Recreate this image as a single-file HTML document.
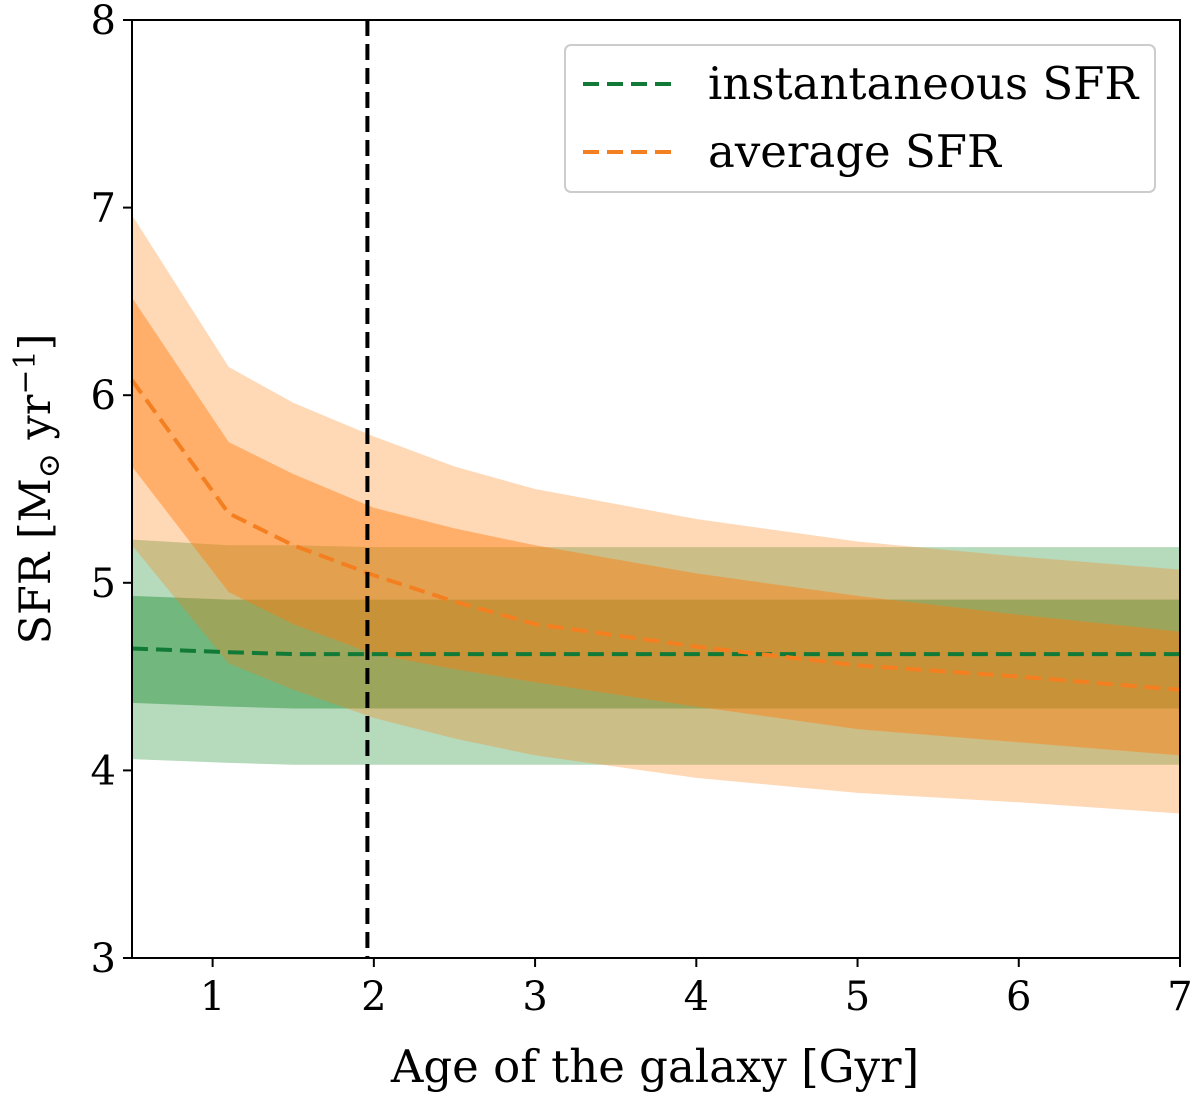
<!DOCTYPE html>
<html><head><meta charset="utf-8"><style>
body{margin:0;background:#fff}
svg text{font-family:"DejaVu Serif","Liberation Serif",serif;fill:#000}
</style></head><body>
<svg id="chart" width="1200" height="1105" xmlns="http://www.w3.org/2000/svg">
<g id="bands"></g><g id="lines"></g><g id="axes"></g>
</svg>
<script>
const ages=[0.5,1.1,1.5,2,2.5,3,4,5,6,7];
const avgMean=[6.08,5.37,5.2,5.04,4.9,4.78,4.66,4.56,4.5,4.43];
const avgUp1=[6.52,5.75,5.58,5.4,5.29,5.2,5.05,4.93,4.83,4.74];
const avgLo1=[5.62,4.95,4.78,4.62,4.54,4.47,4.34,4.22,4.15,4.08];
const avgUp2=[6.96,6.15,5.96,5.78,5.62,5.5,5.34,5.22,5.14,5.07];
const avgLo2=[5.2,4.57,4.43,4.28,4.17,4.08,3.96,3.88,3.83,3.77];
const instMean=[4.65,4.63,4.62,4.62,4.62,4.62,4.62,4.62,4.62,4.62];
const instUp1=[4.93,4.91,4.91,4.91,4.91,4.91,4.91,4.91,4.91,4.91];
const instLo1=[4.36,4.34,4.33,4.33,4.33,4.33,4.33,4.33,4.33,4.33];
const instUp2=[5.23,5.2,5.2,5.19,5.19,5.19,5.19,5.19,5.19,5.19];
const instLo2=[4.06,4.04,4.03,4.03,4.03,4.03,4.03,4.03,4.03,4.03];
const xTicks=[1,2,3,4,5,6,7];
const yTicks=[3,4,5,6,7,8];
const vline=1.96;
const L=132,R=1180,T=20,B=958,x0=0.5,x1=7,y0=3,y1=8;
const X=v=>L+(v-x0)/(x1-x0)*(R-L), Y=v=>B-(v-y0)/(y1-y0)*(B-T);
const NS='http://www.w3.org/2000/svg';
function mk(tag,attrs,parent){const e=document.createElementNS(NS,tag);for(const k in attrs)e.setAttribute(k,attrs[k]);parent.appendChild(e);return e;}
const bands=document.getElementById('bands'),lines=document.getElementById('lines'),axes=document.getElementById('axes');
function band(up,lo,color,op,name){
  let d='M'+ages.map((a,i)=>X(a)+','+Y(up[i])).join('L');
  d+='L'+ages.map((a,i)=>[a,i]).reverse().map(([a,i])=>X(a)+','+Y(lo[i])).join('L')+'Z';
  const p=mk('path',{d:d,fill:color,'fill-opacity':op},bands);
  
  
}
band(instUp2,instLo2,'#3a9a4a',0.37,'inst-2sigma-band');
band(instUp1,instLo1,'#3a9a4a',0.55,'inst-1sigma-band');
band(avgUp2,avgLo2,'#ff7f0e',0.3,'avg-2sigma-band');
band(avgUp1,avgLo1,'#ff7f0e',0.45,'avg-1sigma-band');
function line(vals,color,name){
  const p=mk('polyline',{points:ages.map((a,i)=>X(a)+','+Y(vals[i])).join(' '),fill:'none',stroke:color,'stroke-width':4,'stroke-dasharray':'16,8'},lines);
  
  
}
line(instMean,'#117a37','instantaneous-sfr-line');
line(avgMean,'#f47f20','average-sfr-line');
const vl=mk('line',{x1:X(vline),x2:X(vline),y1:T,y2:B,stroke:'#000','stroke-width':4,'stroke-dasharray':'16,8'},lines);


const fr=mk('rect',{x:L,y:T,width:R-L,height:B-T,fill:'none',stroke:'#000','stroke-width':2},axes);


xTicks.forEach(t=>{
  mk('line',{x1:X(t),x2:X(t),y1:B,y2:B+9,stroke:'#000','stroke-width':2},axes);
  const tx=mk('text',{x:X(t),y:B+52,'text-anchor':'middle','font-size':40},axes);tx.textContent=t;
  
  
});
yTicks.forEach(t=>{
  mk('line',{x1:L-9,x2:L,y1:Y(t),y2:Y(t),stroke:'#000','stroke-width':2},axes);
  const tx=mk('text',{x:L-16,y:Y(t)+14,'text-anchor':'end','font-size':40},axes);tx.textContent=t;
  
  
});
</script>
<svg style="position:absolute;left:0;top:0" width="1200" height="1105" xmlns="http://www.w3.org/2000/svg">
<text x="655" y="1082" text-anchor="middle" font-size="45">Age of the galaxy [Gyr]</text>
<text transform="translate(50,489) rotate(-90)" text-anchor="middle" font-size="43">SFR [M<tspan font-size="30" dy="9">⊙</tspan><tspan dy="-9"> yr</tspan><tspan font-size="30" dy="-15">−1</tspan><tspan dy="15">]</tspan></text>
<g>
<rect x="565" y="45" width="590" height="147" rx="6" fill="#fff" fill-opacity="0.8" stroke="#ccc" stroke-width="2"/>
<line x1="583" x2="673" y1="84" y2="84" stroke="#117a37" stroke-width="4" stroke-dasharray="16,8"/>
<text x="708" y="99" font-size="45">instantaneous SFR</text>
<line x1="583" x2="673" y1="152" y2="152" stroke="#f47f20" stroke-width="4" stroke-dasharray="16,8"/>
<text x="708" y="167" font-size="45">average SFR</text>
</g>
</svg>
</body></html>
